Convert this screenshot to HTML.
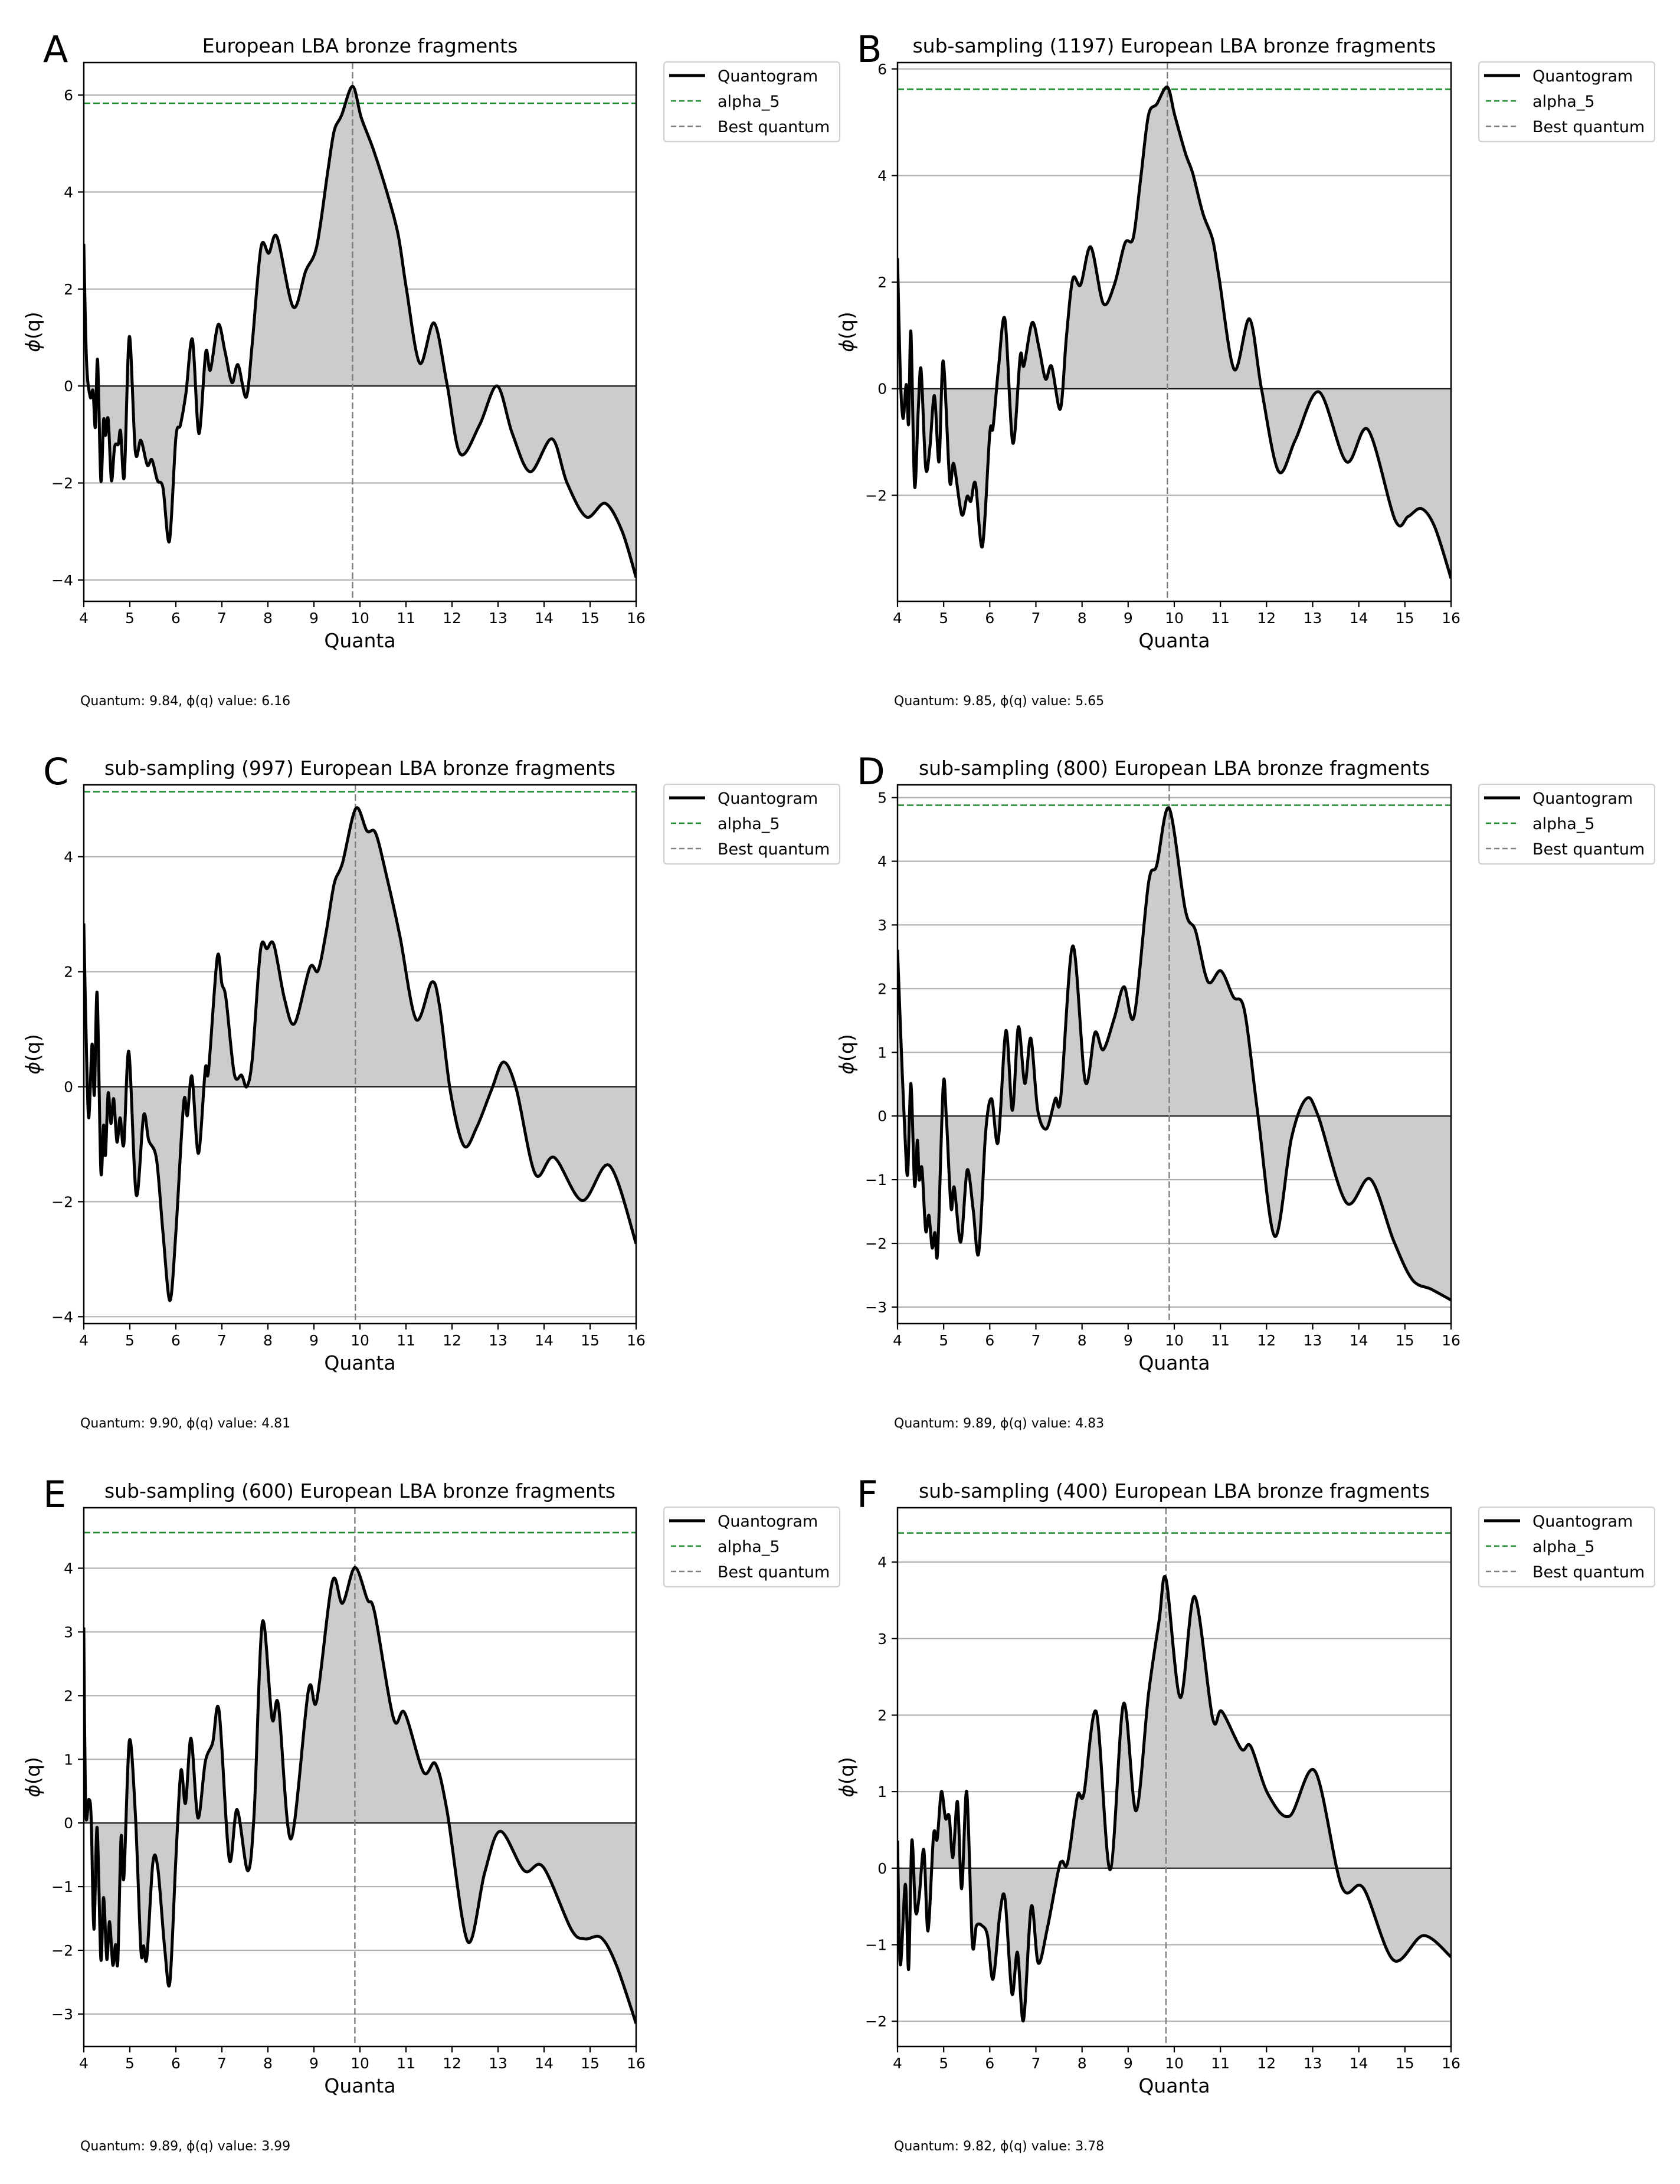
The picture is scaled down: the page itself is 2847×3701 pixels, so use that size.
<!DOCTYPE html>
<html><head><meta charset="utf-8">
<style>
html,body{margin:0;padding:0;background:#fff;}
svg{display:block;}
text{font-family:"DejaVu Sans","Liberation Sans",sans-serif;fill:#000;}
</style></head>
<body>
<svg id="s" xmlns="http://www.w3.org/2000/svg" width="2847" height="3701" viewBox="0 0 2847 3701"></svg>
<script>
const panels=[
{L:'A',col:0,row:0,title:'European LBA bronze fragments',ylim:[-4.44,6.67],ticks:[-4,-2,0,2,4,6],alpha:5.83,bq:9.84,info:'Quantum: 9.84, \u03D5(q) value: 6.16',
pts:[[4.0,2.93],[4.06,0.5],[4.14,-0.23],[4.2,-0.1],[4.25,-0.85],[4.3,0.54],[4.37,-1.95],[4.43,-0.7],[4.47,-1.02],[4.53,-0.68],[4.6,-1.95],[4.67,-1.25],[4.75,-1.2],[4.8,-0.93],[4.88,-1.86],[4.99,1.02],[5.12,-1.35],[5.24,-1.12],[5.38,-1.63],[5.48,-1.52],[5.6,-1.95],[5.72,-2.1],[5.86,-3.2],[6.0,-1.07],[6.1,-0.8],[6.22,-0.14],[6.36,0.96],[6.5,-0.98],[6.65,0.7],[6.75,0.33],[6.92,1.27],[7.07,0.7],[7.22,0.07],[7.35,0.44],[7.53,-0.23],[7.66,0.88],[7.85,2.86],[8.02,2.74],[8.2,3.07],[8.55,1.63],[8.82,2.37],[9.06,2.88],[9.3,4.42],[9.44,5.26],[9.6,5.58],[9.84,6.18],[10.03,5.53],[10.29,4.88],[10.6,3.95],[10.83,3.12],[11.01,2.0],[11.3,0.47],[11.61,1.3],[11.89,0.05],[12.18,-1.4],[12.6,-0.8],[12.98,0.0],[13.31,-0.98],[13.7,-1.77],[14.17,-1.09],[14.5,-2.0],[14.92,-2.7],[15.33,-2.42],[15.69,-2.98],[16,-3.95]]},
{L:'B',col:1,row:0,title:'sub-sampling (1197) European LBA bronze fragments',ylim:[-3.99,6.12],ticks:[-2,0,2,4,6],alpha:5.62,bq:9.85,info:'Quantum: 9.85, \u03D5(q) value: 5.65',
pts:[[4.0,2.45],[4.06,0.25],[4.12,-0.56],[4.19,0.08],[4.24,-0.66],[4.29,1.07],[4.37,-1.83],[4.45,-0.38],[4.51,0.36],[4.61,-1.48],[4.7,-1.12],[4.8,-0.13],[4.9,-1.37],[4.99,0.52],[5.13,-1.72],[5.22,-1.41],[5.39,-2.36],[5.51,-2.02],[5.59,-2.11],[5.69,-1.78],[5.84,-2.96],[6.0,-0.84],[6.07,-0.73],[6.19,0.4],[6.33,1.3],[6.5,-1.02],[6.66,0.61],[6.74,0.43],[6.92,1.24],[7.07,0.75],[7.21,0.18],[7.34,0.42],[7.53,-0.38],[7.66,0.96],[7.8,2.06],[7.97,1.95],[8.19,2.66],[8.46,1.6],[8.7,1.95],[8.93,2.73],[9.11,2.83],[9.27,3.93],[9.44,5.13],[9.62,5.34],[9.85,5.66],[10.01,5.13],[10.24,4.42],[10.4,4.04],[10.62,3.29],[10.83,2.8],[10.97,2.09],[11.3,0.36],[11.63,1.31],[11.89,0.0],[12.26,-1.55],[12.63,-0.95],[13.14,-0.06],[13.73,-1.37],[14.2,-0.77],[14.79,-2.47],[15.07,-2.4],[15.36,-2.25],[15.65,-2.6],[16,-3.56]]},
{L:'C',col:0,row:1,title:'sub-sampling (997) European LBA bronze fragments',ylim:[-4.12,5.25],ticks:[-4,-2,0,2,4],alpha:5.13,bq:9.90,info:'Quantum: 9.90, \u03D5(q) value: 4.81',
pts:[[4.0,2.84],[4.06,0.54],[4.11,-0.54],[4.18,0.74],[4.23,-0.14],[4.29,1.63],[4.37,-1.46],[4.43,-0.67],[4.47,-1.19],[4.53,-0.11],[4.59,-0.64],[4.65,-0.21],[4.72,-0.96],[4.79,-0.54],[4.87,-1.0],[4.98,0.61],[5.14,-1.88],[5.3,-0.5],[5.41,-0.93],[5.58,-1.26],[5.72,-2.54],[5.87,-3.72],[6.0,-2.54],[6.17,-0.28],[6.25,-0.5],[6.35,0.18],[6.49,-1.16],[6.64,0.31],[6.71,0.28],[6.9,2.25],[7.0,1.79],[7.09,1.53],[7.27,0.22],[7.43,0.2],[7.54,0.0],[7.66,0.48],[7.84,2.38],[7.98,2.4],[8.13,2.47],[8.36,1.53],[8.58,1.1],[8.91,2.07],[9.09,2.02],[9.27,2.71],[9.44,3.53],[9.62,3.89],[9.91,4.84],[10.15,4.45],[10.34,4.41],[10.58,3.66],[10.87,2.61],[11.22,1.17],[11.56,1.82],[11.73,1.4],[11.97,-0.11],[12.26,-1.03],[12.54,-0.7],[12.86,-0.05],[13.12,0.43],[13.4,-0.05],[13.81,-1.52],[14.22,-1.23],[14.83,-1.98],[15.42,-1.37],[16,-2.73]]},
{L:'D',col:1,row:1,title:'sub-sampling (800) European LBA bronze fragments',ylim:[-3.26,5.2],ticks:[-3,-2,-1,0,1,2,3,4,5],alpha:4.88,bq:9.89,info:'Quantum: 9.89, \u03D5(q) value: 4.83',
pts:[[4.0,2.61],[4.08,1.07],[4.16,-0.29],[4.22,-0.91],[4.29,0.51],[4.37,-1.09],[4.43,-0.38],[4.47,-1.0],[4.53,-0.82],[4.61,-1.8],[4.68,-1.56],[4.75,-2.07],[4.81,-1.83],[4.87,-2.12],[4.99,0.48],[5.06,-0.05],[5.16,-1.44],[5.23,-1.12],[5.37,-1.98],[5.51,-0.85],[5.64,-1.47],[5.76,-2.15],[5.91,-0.26],[6.04,0.27],[6.18,-0.41],[6.35,1.34],[6.49,0.09],[6.62,1.4],[6.76,0.51],[6.89,1.22],[7.04,0.09],[7.23,-0.2],[7.42,0.27],[7.54,0.3],[7.8,2.67],[8.07,0.54],[8.28,1.31],[8.46,1.04],[8.7,1.54],[8.91,2.03],[9.13,1.57],[9.44,3.65],[9.62,3.94],[9.89,4.83],[10.24,3.23],[10.46,2.91],[10.73,2.11],[11.01,2.28],[11.28,1.87],[11.52,1.66],[11.81,0.04],[12.18,-1.89],[12.54,-0.35],[12.86,0.27],[13.12,0.0],[13.73,-1.36],[14.25,-0.99],[14.75,-1.95],[15.16,-2.57],[15.57,-2.72],[16,-2.89]]},
{L:'E',col:0,row:2,title:'sub-sampling (600) European LBA bronze fragments',ylim:[-3.51,4.95],ticks:[-3,-2,-1,0,1,2,3,4],alpha:4.56,bq:9.89,info:'Quantum: 9.89, \u03D5(q) value: 3.99',
pts:[[4.0,3.07],[4.04,0.2],[4.11,0.37],[4.16,0.08],[4.22,-1.67],[4.29,-0.07],[4.37,-2.14],[4.43,-1.17],[4.5,-2.14],[4.56,-1.55],[4.63,-2.23],[4.69,-1.91],[4.74,-2.17],[4.81,-0.22],[4.87,-0.86],[4.99,1.29],[5.12,0.14],[5.24,-1.99],[5.3,-1.93],[5.37,-2.11],[5.5,-0.63],[5.61,-0.72],[5.76,-1.99],[5.87,-2.5],[6.0,-0.57],[6.11,0.82],[6.21,0.31],[6.33,1.33],[6.48,0.08],[6.64,0.96],[6.8,1.26],[6.94,1.76],[7.16,-0.57],[7.33,0.21],[7.56,-0.75],[7.7,0.14],[7.88,3.15],[8.09,1.64],[8.23,1.85],[8.5,-0.25],[8.88,2.08],[9.06,1.92],[9.4,3.79],[9.62,3.45],[9.89,4.01],[10.16,3.51],[10.32,3.3],[10.73,1.64],[10.97,1.73],[11.38,0.8],[11.64,0.93],[11.89,0.2],[12.34,-1.86],[12.71,-0.78],[13.05,-0.13],[13.57,-0.75],[13.98,-0.69],[14.59,-1.67],[14.88,-1.82],[15.24,-1.8],[15.57,-2.23],[16,-3.15]]},
{L:'F',col:1,row:2,title:'sub-sampling (400) European LBA bronze fragments',ylim:[-2.33,4.71],ticks:[-2,-1,0,1,2,3,4],alpha:4.38,bq:9.82,info:'Quantum: 9.82, \u03D5(q) value: 3.78',
pts:[[4.0,0.36],[4.06,-1.26],[4.17,-0.21],[4.24,-1.32],[4.31,0.36],[4.39,-0.56],[4.47,-0.37],[4.57,0.24],[4.66,-0.82],[4.78,0.43],[4.86,0.38],[4.95,1.0],[5.04,0.65],[5.12,0.68],[5.2,0.14],[5.3,0.87],[5.39,-0.27],[5.5,1.0],[5.62,-0.97],[5.71,-0.75],[5.83,-0.75],[5.95,-0.88],[6.07,-1.45],[6.22,-0.59],[6.33,-0.4],[6.48,-1.64],[6.6,-1.1],[6.73,-1.99],[6.9,-0.5],[7.05,-1.24],[7.25,-0.78],[7.49,-0.02],[7.57,0.09],[7.69,0.08],[7.9,0.94],[8.04,0.97],[8.31,2.04],[8.61,-0.02],[8.9,2.15],[9.17,0.75],[9.44,2.27],[9.67,3.23],[9.82,3.78],[10.13,2.23],[10.44,3.55],[10.83,1.96],[11.03,2.05],[11.45,1.56],[11.66,1.59],[12.03,0.97],[12.5,0.68],[13.05,1.27],[13.63,-0.24],[14.1,-0.26],[14.75,-1.2],[15.4,-0.88],[16,-1.16]]}
];
const colX=[[142,1078],[1521,2459]];
const rowY=[[106,1019],[1330,2243],[2555,3468]];
let out='';
function f(n){return n.toFixed(1);}
panels.forEach((p,i)=>{
 const [x0,x1]=colX[p.col],[y0,y1]=rowY[p.row];
 const X=q=>x0+(q-4)/12*(x1-x0);
 const Y=v=>y0+(p.ylim[1]-v)/(p.ylim[1]-p.ylim[0])*(y1-y0);
 const cid='c'+i;
 out+=`<clipPath id="${cid}"><rect x="${x0}" y="${y0}" width="${x1-x0}" height="${y1-y0}"/></clipPath>`;
 // grid
 p.ticks.forEach(t=>{const y=Y(t);
  if(t!==0) out+=`<line x1="${x0}" x2="${x1}" y1="${f(y)}" y2="${f(y)}" stroke="#b0b0b0" stroke-width="2.2"/>`;
  out+=`<line x1="${x0-10}" x2="${x0}" y1="${f(y)}" y2="${f(y)}" stroke="#000" stroke-width="2.2"/>`;
  out+=`<text x="${x0-18}" y="${f(y+9)}" font-size="25" text-anchor="end">${t<0?'\u2212'+(-t):t}</text>`;
 });
 // curve path (Catmull-Rom)
 const P=p.pts.map(a=>[X(a[0]),Y(a[1])]);
 let d=`M${f(P[0][0])},${f(P[0][1])}`;
 for(let k=0;k<P.length-1;k++){
  const p0=P[k-1]||P[k],p1=P[k],p2=P[k+1],p3=P[k+2]||P[k+1];
  const t=0.16;
  const c1=[p1[0]+(p2[0]-p0[0])*t,p1[1]+(p2[1]-p0[1])*t];
  const c2=[p2[0]-(p3[0]-p1[0])*t,p2[1]-(p3[1]-p1[1])*t];
  d+=`C${f(c1[0])},${f(c1[1])} ${f(c2[0])},${f(c2[1])} ${f(p2[0])},${f(p2[1])}`;
 }
 const yz=Y(0);
 out+=`<g clip-path="url(#${cid})">`;
 out+=`<path d="${d} L${f(P[P.length-1][0])},${f(yz)} L${f(P[0][0])},${f(yz)} Z" fill="#cccccc" stroke="none"/>`;
 out+=`<line x1="${x0}" x2="${x1}" y1="${f(yz)}" y2="${f(yz)}" stroke="#000" stroke-width="2"/>`;
 out+=`<line x1="${x0}" x2="${x1}" y1="${f(Y(p.alpha))}" y2="${f(Y(p.alpha))}" stroke="#1f8a2e" stroke-width="2.6" stroke-dasharray="11,5"/>`;
 out+=`<line x1="${f(X(p.bq))}" x2="${f(X(p.bq))}" y1="${y0}" y2="${y1}" stroke="#808080" stroke-width="2.4" stroke-dasharray="11,5"/>`;
 out+=`<path d="${d}" fill="none" stroke="#000" stroke-width="5" stroke-linejoin="round"/>`;
 out+=`</g>`;
 out+=`<rect x="${x0}" y="${y0}" width="${x1-x0}" height="${y1-y0}" fill="none" stroke="#000" stroke-width="2.5"/>`;
 for(let q=4;q<=16;q++){const x=X(q);
  out+=`<line x1="${f(x)}" x2="${f(x)}" y1="${y1}" y2="${y1+10}" stroke="#000" stroke-width="2.2"/>`;
  out+=`<text x="${f(x)}" y="${y1+37}" font-size="25" text-anchor="middle">${q}</text>`;}
 const cx=(x0+x1)/2;
 out+=`<text x="${cx}" y="${y1+78}" font-size="33" text-anchor="middle">Quanta</text>`;
 out+=`<text transform="translate(${x0-75},${(y0+y1)/2}) rotate(-90)" font-size="33" text-anchor="middle"><tspan font-style="italic">\u03D5</tspan>(q)</text>`;
 out+=`<text x="${cx}" y="${y0-17}" font-size="33" text-anchor="middle">${p.title}</text>`;
 out+=`<text x="${x0-69}" y="${y0-1}" font-size="62">${p.L}</text>`;
 out+=`<text x="${x0-6}" y="${y1+176}" font-size="22">${p.info}</text>`;
 // legend
 const lx=x1+47,ly=y0-1;
 out+=`<rect x="${lx}" y="${ly}" width="298" height="135" rx="5" fill="#fff" stroke="#d0d0d0" stroke-width="2.2"/>`;
 out+=`<line x1="${lx+9}" x2="${lx+70}" y1="${ly+23}" y2="${ly+23}" stroke="#000" stroke-width="5"/>`;
 out+=`<line x1="${lx+12}" x2="${lx+68}" y1="${ly+66}" y2="${ly+66}" stroke="#1f8a2e" stroke-width="2.4" stroke-dasharray="9,5"/>`;
 out+=`<line x1="${lx+12}" x2="${lx+68}" y1="${ly+109}" y2="${ly+109}" stroke="#808080" stroke-width="2.4" stroke-dasharray="9,5"/>`;
 out+=`<text x="${lx+91}" y="${ly+33}" font-size="27">Quantogram</text>`;
 out+=`<text x="${lx+91}" y="${ly+76}" font-size="27">alpha_5</text>`;
 out+=`<text x="${lx+91}" y="${ly+119}" font-size="27">Best quantum</text>`;
});
document.getElementById('s').innerHTML=out;
</script>
</body></html>
